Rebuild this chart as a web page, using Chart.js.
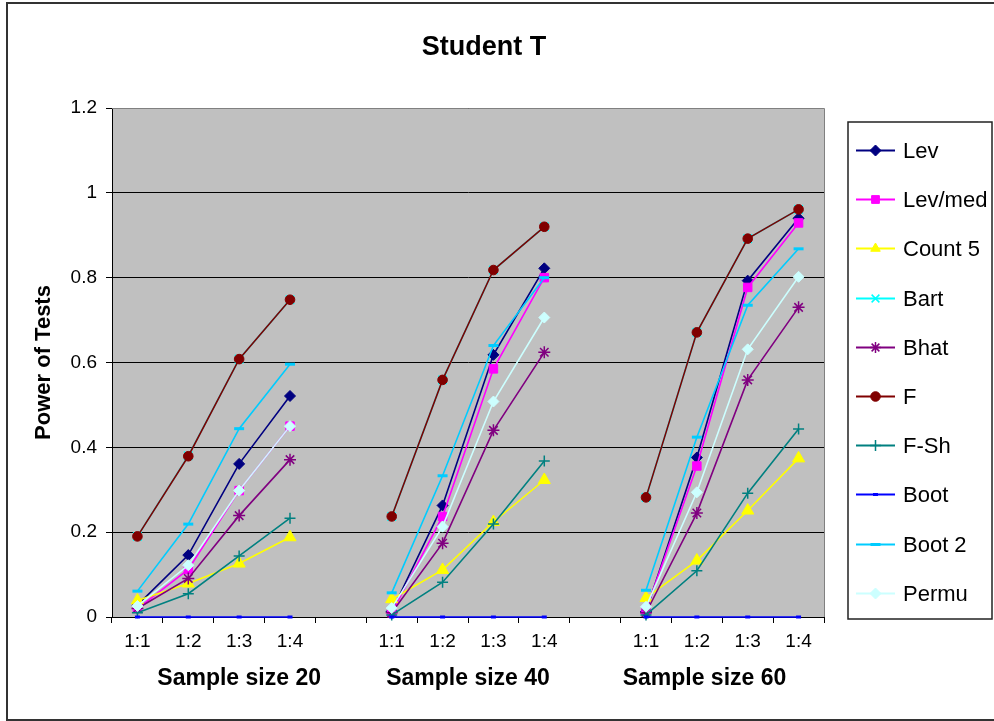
<!DOCTYPE html>
<html>
<head>
<meta charset="utf-8">
<title>Student T</title>
<script src="https://cdn.jsdelivr.net/npm/chart.js@4/dist/chart.umd.min.js"></script>
<style>
  html, body { margin: 0; padding: 0; background: #fff; }
  canvas { display: block; }
</style>
</head>
<body>
<canvas id="myChart" width="994" height="721"></canvas>
<script>
////////////////////////////// DATA //////////////////////////////
// 3 groups of 4 ratios, one empty category between groups (null = gap)
const ratios = ["1:1", "1:2", "1:3", "1:4", "", "1:1", "1:2", "1:3", "1:4", "", "1:1", "1:2", "1:3", "1:4"];
const groupNames = ["Sample size 20", "Sample size 40", "Sample size 60"];
const groupAt = [2, 6.5, 11.15]; // category index the group caption sits on
const chartTitle = "Student T";

const lev    = [0.028, 0.146, 0.361, 0.521, null, 0.013, 0.263, 0.618, 0.822, null, 0.013, 0.376, 0.793, 0.940];
const levMed = [0.020, 0.112, 0.298, 0.450, null, 0.010, 0.237, 0.585, 0.800, null, 0.016, 0.356, 0.777, 0.929];
const count5 = [0.039, 0.079, 0.126, 0.188, null, 0.042, 0.111, 0.224, 0.323, null, 0.045, 0.133, 0.251, 0.374];
const bart   = [0.190, 0.380, 0.608, 0.748, null, 0.237, 0.559, 0.818, 0.920, null, 0.282, 0.671, 0.892, 0.961];
const bhat   = [0.020, 0.091, 0.239, 0.371, null, 0.010, 0.174, 0.440, 0.624, null, 0.010, 0.245, 0.559, 0.730];
const fTest  = [0.190, 0.379, 0.608, 0.748, null, 0.237, 0.559, 0.818, 0.920, null, 0.282, 0.671, 0.892, 0.961];
const fSh    = [0.010, 0.055, 0.144, 0.233, null, 0.005, 0.082, 0.219, 0.368, null, 0.005, 0.109, 0.292, 0.443];
const boot   = [0, 0, 0, 0, null, 0, 0, 0, 0, null, 0, 0, 0, 0];
const boot2  = [0.061, 0.219, 0.444, 0.596, null, 0.057, 0.333, 0.640, 0.800, null, 0.063, 0.424, 0.735, 0.868];
const permu  = [0.026, 0.122, 0.298, 0.450, null, 0.021, 0.213, 0.508, 0.706, null, 0.024, 0.294, 0.631, 0.802];

const yTicks = [0, 0.2, 0.4, 0.6, 0.8, 1, 1.2];

////////////////////////////// SERIES //////////////////////////////
const FONT = '"Liberation Sans", Arial, sans-serif';
Chart.defaults.font.family = FONT;
Chart.defaults.color = "#000";

function series(label, data, color, style, radius, fill, bw) {
  return {
    label: label,
    data: data,
    borderColor: color,
    backgroundColor: color,
    borderWidth: 1.6,
    pointStyle: style,
    pointRadius: radius,
    pointHoverRadius: radius,
    pointBackgroundColor: fill || color,
    pointBorderColor: color,
    pointBorderWidth: bw === undefined ? 1 : bw,
    tension: 0,
    spanGaps: false,
    clip: false,
  };
}

const datasets = [
  series("Lev", lev, "#000080", "rectRot", 5.5),
  series("Lev/med", levMed, "#FF00FF", "rect", 6),
  series("Count 5", count5, "#FFFF00", "triangle", 7),
  series("Bart", bart, "#00FFFF", "crossRot", 6, null, 1.5),
  series("Bhat", bhat, "#800080", "star", 6, null, 1.5),
  series("F", fTest, "#800000", "circle", 4.8),
  series("F-Sh", fSh, "#008080", "cross", 5.5, null, 1.5),
  series("Boot", boot, "#0000FF", "line", 2.5, null, 3),
  series("Boot 2", boot2, "#00CCFF", "line", 5, null, 3),
  series("Permu", permu, "#CCFFFF", "rectRot", 5.5),
];
// Excel draws later series on top
datasets.forEach((ds, i) => { ds.order = datasets.length - i; });

////////////////////////////// PLUGINS //////////////////////////////
const frame = {
  id: "frame",
  beforeDraw(chart) {
    const { ctx, chartArea } = chart;
    ctx.save();
    ctx.fillStyle = "#fff";
    ctx.fillRect(0, 0, chart.width, chart.height);
    ctx.fillStyle = "#C0C0C0";
    ctx.fillRect(chartArea.left, chartArea.top, chartArea.right - chartArea.left, chartArea.bottom - chartArea.top);
    ctx.strokeStyle = "#333";
    ctx.lineWidth = 2;
    ctx.strokeRect(7, 3, chart.width, chart.height - 4);
    ctx.restore();
  },
  beforeDatasetsDraw(chart) {
    const { ctx, chartArea } = chart;
    ctx.save();
    ctx.strokeStyle = "#808080";
    ctx.lineWidth = 1;
    ctx.beginPath();
    ctx.moveTo(chartArea.left, chartArea.top + 0.5);
    ctx.lineTo(chartArea.right + 0.5, chartArea.top + 0.5);
    ctx.lineTo(chartArea.right + 0.5, chartArea.bottom);
    ctx.stroke();
    ctx.restore();
  },
};

// title over the whole picture, group captions under the ratios
const captions = {
  id: "captions",
  afterDraw(chart) {
    const ctx = chart.ctx;
    const x = chart.scales.x;
    ctx.save();
    ctx.fillStyle = "#000";
    ctx.textAlign = "center";
    ctx.textBaseline = "middle";
    ctx.font = "bold 27px " + FONT;
    ctx.fillText(chartTitle, 484, 48);
    ctx.font = "bold 23px " + FONT;
    groupNames.forEach((name, i) => {
      ctx.fillText(name, x.getPixelForValue(groupAt[i]), 679);
    });
    ctx.restore();
  },
};

// hand-made legend box so the spacing matches the original
const legendBox = {
  id: "legendBox",
  afterDraw(chart) {
    const ctx = chart.ctx;
    const left = 848, top = 122, w = 144, h = 497;
    ctx.save();
    ctx.fillStyle = "#fff";
    ctx.fillRect(left, top, w, h);
    ctx.strokeStyle = "#222";
    ctx.lineWidth = 1.5;
    ctx.strokeRect(left, top, w, h);
    chart.data.datasets.forEach((ds, i) => {
      const y = Math.round(150 + i * 49.2) + 0.5;
      ctx.strokeStyle = ds.borderColor;
      ctx.lineWidth = 2;
      ctx.beginPath();
      ctx.moveTo(856, y);
      ctx.lineTo(895, y);
      ctx.stroke();
      ctx.fillStyle = ds.pointBackgroundColor;
      ctx.strokeStyle = ds.pointBorderColor;
      ctx.lineWidth = ds.pointBorderWidth;
      Chart.helpers.drawPoint(ctx, {
        pointStyle: ds.pointStyle,
        radius: Math.min(ds.pointRadius, 5.5),
        borderWidth: ds.pointBorderWidth,
        rotation: 0,
      }, 875.5, y);
      ctx.fillStyle = "#000";
      ctx.font = "22px " + FONT;
      ctx.textAlign = "left";
      ctx.textBaseline = "middle";
      ctx.fillText(ds.label, 903, y + 1);
    });
    ctx.restore();
  },
};

////////////////////////////// CHART //////////////////////////////
const config = {
  type: "line",
  data: { labels: ratios, datasets: datasets },
  options: {
    responsive: false,
    animation: false,
    devicePixelRatio: 1,
    layout: { padding: { left: 0, right: 170, top: 108, bottom: 0 } },
    plugins: {
      legend: { display: false },
      tooltip: { enabled: false },
      title: { display: false },
    },
    scales: {
      x: {
        type: "category",
        offset: true,
        grid: { offset: true, drawOnChartArea: false, drawTicks: true, tickLength: 6, color: "#000", tickColor: "#000" },
        border: { display: true, color: "#000", width: 1 },
        ticks: { autoSkip: false, maxRotation: 0, minRotation: 0, padding: 7, font: { size: 19 } },
        afterFit: (scale) => { scale.height = 104; },
      },
      y: {
        min: 0,
        max: 1.2,
        afterBuildTicks: (scale) => { scale.ticks = yTicks.map((v) => ({ value: v })); },
        grid: { color: "#000", lineWidth: 1, tickLength: 6, tickColor: "#000" },
        border: { display: true, color: "#000", width: 1 },
        ticks: {
          padding: 9,
          font: { size: 19 },
          callback: (v) => String(Math.round(v * 10) / 10),
        },
        title: {
          display: true,
          text: "Power of Tests",
          color: "#000",
          font: { size: 22, weight: "bold" },
          padding: { top: 31, bottom: 0 },
        },
        afterFit: (scale) => { scale.width = 112; },
      },
    },
  },
  plugins: [frame, captions, legendBox],
};

const myChart = new Chart(document.getElementById("myChart"), config);
</script>
</body>
</html>
